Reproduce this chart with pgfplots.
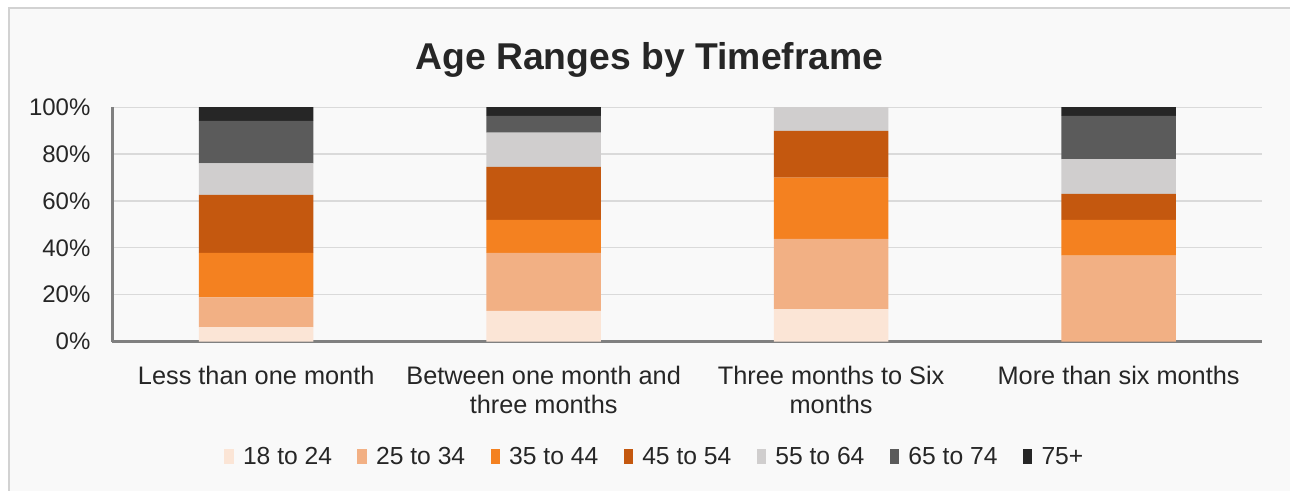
\documentclass[border=0pt]{standalone}
\usepackage{fontspec}
\setmainfont{Liberation Sans}
\usepackage{pgfplots}
\pgfplotsset{compat=1.18}
\definecolor{cA}{HTML}{FBE5D6}
\definecolor{cB}{HTML}{F2B084}
\definecolor{cC}{HTML}{F48120}
\definecolor{cD}{HTML}{C4580F}
\definecolor{cE}{HTML}{D0CECE}
\definecolor{cF}{HTML}{5B5B5B}
\definecolor{cG}{HTML}{262626}
\definecolor{panel}{HTML}{F9F9F9}
\definecolor{txt}{HTML}{262626}
\definecolor{gridc}{HTML}{DADADA}
\definecolor{axc}{HTML}{808080}
\begin{document}
\begin{tikzpicture}
\fill[white] (0,0) rectangle (968.25pt,368.25pt);
\fill[panel] (6.75pt,0) rectangle (968.25pt,362.25pt);
\draw[gray!35, line width=1pt] (6.75pt,0) -- (6.75pt,362.25pt) -- (968.25pt,362.25pt);
\begin{axis}[
  at={(84.375pt,111.975pt)}, anchor=south west,
  scale only axis, width=862.875pt, height=175.8pt,
  ybar stacked, bar width=86pt,
  xmin=-0.5, xmax=3.5, ymin=0, ymax=100,
  clip=false,
  axis x line=bottom, axis y line=left,
  axis line style={-, axc, line width=1.6pt},
  xtick={0,1,2,3},
  xticklabels={Less than one month, Between one month and\\three months, Three months to Six\\months, More than six months},
  ytick={0,20,40,60,80,100},
  yticklabels={0\%,20\%,40\%,60\%,80\%,100\%},
  major tick length=0pt,
  ymajorgrids, grid style={gridc, line width=0.9pt},
  tick label style={font=\fontsize{18}{22}\selectfont, text=txt},
  xticklabel style={align=center, anchor=north, yshift=-15pt, font=\fontsize{19}{22}\selectfont},
  yticklabel style={anchor=east, xshift=-13pt},
  legend columns=7,
  legend style={at={(0.472,-0.492)}, anchor=center, draw=none, fill=none,
    font=\fontsize{18.5}{22}\selectfont, text=txt,
    /tikz/every even column/.append style={column sep=17pt},
    /tikz/every odd column/.append style={column sep=5pt}},
  legend image code/.code={\fill[#1] (0pt,-5.5pt) rectangle (7pt,5.5pt);},
]
\addplot[fill=cA, draw=none] coordinates {(0,6.1) (1,13.1) (2,13.8) (3,0)};
\addplot[fill=cB, draw=none] coordinates {(0,12.7) (1,24.7) (2,30.0) (3,36.7)};
\addplot[fill=cC, draw=none] coordinates {(0,19.0) (1,14.1) (2,26.2) (3,15.2)};
\addplot[fill=cD, draw=none] coordinates {(0,24.8) (1,22.6) (2,19.9) (3,11.1)};
\addplot[fill=cE, draw=none] coordinates {(0,13.4) (1,14.7) (2,10.1) (3,14.8)};
\addplot[fill=cF, draw=none] coordinates {(0,18.2) (1,7.1) (2,0) (3,18.5)};
\addplot[fill=cG, draw=none] coordinates {(0,5.8) (1,3.7) (2,0) (3,3.7)};
\legend{18 to 24, 25 to 34, 35 to 44, 45 to 54, 55 to 64, 65 to 74, 75+}
\node[font=\bfseries\fontsize{28}{32}\selectfont, text=txt, anchor=center] at (rel axis cs:0.467,1.20) {Age Ranges by Timeframe};
\end{axis}
\end{tikzpicture}
\end{document}
